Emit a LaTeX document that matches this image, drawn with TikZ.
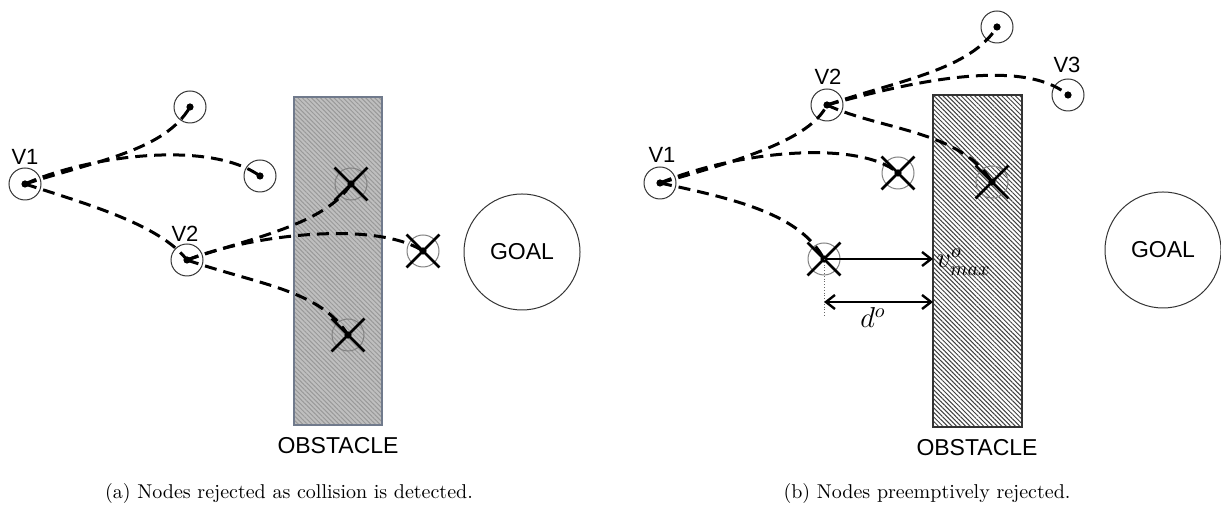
\documentclass[tikz,border=0pt]{standalone}
\usepackage{fontspec}
\newfontfamily\arial{Liberation Sans}
\usetikzlibrary{arrows.meta, patterns.meta, shapes.misc}

\definecolor{obstedge}{RGB}{112,122,140}

\begin{document}
\begin{tikzpicture}[x=0.5pt, y=-0.5pt, >={Straight Barb[length=4.5pt, width=7pt]},
    vnode/.style={circle, draw=black!80, line width=0.5pt, minimum size=16pt, inner sep=0pt,
      path picture={\fill (path picture bounding box.center) circle (1.8pt);}},
    rejnode/.style={vnode, draw=black!50},
    xmark/.style={cross out, draw, line width=1.4pt, minimum size=15pt, inner sep=0pt},
    edge/.style={line width=1.5pt, dash pattern=on 6pt off 3.5pt},
    lbl/.style={font=\arial\fontsize{11}{13}\selectfont},
    goal/.style={circle, draw=black!80, line width=0.5pt, minimum size=58pt, inner sep=0pt,
      font=\arial\fontsize{11.5}{13}\selectfont},
    caption/.style={font=\normalsize}]
\useasboundingbox (0,0) rectangle (1221,506);

% (a) collision detected
\filldraw[fill=gray!50, draw=obstedge, line width=0.6pt] (294,97) rectangle (382,425);
\fill[pattern={Lines[angle=-45, distance=1.6pt, line width=0.5pt]}, pattern color=black!40]
  (294,97) rectangle (382,425);
\draw[obstedge, line width=0.6pt] (294,97) rectangle (382,425);
\node[lbl, font=\arial\fontsize{11.5}{13}\selectfont] (a-obst) at (338,446) {OBSTACLE};

\node[vnode] (a1) at (25,184) {};
\node[lbl] (a1-lbl) at (25,157) {V1};
\node[vnode] (a2) at (187,260) {};
\node[lbl] (a2-lbl) at (185,234) {V2};
\node[vnode] (a3) at (190,107) {};
\node[vnode] (a4) at (260,176) {};
\node[rejnode] (a5) at (351,184) {};
\node[rejnode] (a6) at (423,251) {};
\node[rejnode] (a7) at (348,335) {};
\node[goal] (a-goal) at (522,252) {GOAL};

\draw[edge] (a1.center) .. controls (100,160) and (165,150) .. (a3.center);
\draw[edge] (a1.center) .. controls (90,155) and (210,140) .. (a4.center);
\draw[edge] (a1.center) .. controls (90,205) and (160,225) .. (a2.center);
\draw[edge] (a2.center) .. controls (250,238) and (325,225) .. (a5.center);
\draw[edge] (a2.center) .. controls (250,235) and (375,220) .. (a6.center);
\draw[edge] (a2.center) .. controls (260,285) and (320,290) .. (a7.center);

\node[xmark] at (a5) {};
\node[xmark] at (a6) {};
\node[xmark] at (a7) {};

\node[caption] (a-cap) at (289,494) {(a) Nodes rejected as collision is detected.};

% (b) preemptive rejection
\filldraw[fill=white, draw=black!80, line width=0.6pt] (933,95) rectangle (1022,427);
\fill[pattern={Lines[angle=-45, distance=1.6pt, line width=0.5pt]}, pattern color=black!75]
  (933,95) rectangle (1022,427);
\draw[black!80, line width=0.6pt] (933,95) rectangle (1022,427);
\node[lbl, font=\arial\fontsize{11.5}{13}\selectfont] (b-obst) at (977,448) {OBSTACLE};

\node[vnode] (b1) at (660,183) {};
\node[lbl] (b1-lbl) at (662,155) {V1};
\node[vnode] (b2) at (827,105) {};
\node[lbl] (b2-lbl) at (828,77) {V2};
\node[vnode] (b3) at (997,27) {};
\node[vnode] (b4) at (1068,95) {};
\node[lbl] (b4-lbl) at (1067,65) {V3};
\node[rejnode] (b5) at (992,182) {};
\node[rejnode] (b6) at (898,173) {};
\node[rejnode] (b7) at (824,259) {};
\node[goal] (b-goal) at (1163,250) {GOAL};

\draw[edge] (b1.center) .. controls (740,160) and (810,140) .. (b2.center);
\draw[edge] (b1.center) .. controls (740,150) and (860,140) .. (b6.center);
\draw[edge] (b1.center) .. controls (740,200) and (800,215) .. (b7.center);
\draw[edge] (b2.center) .. controls (900,80) and (970,70) .. (b3.center);
\draw[edge] (b2.center) .. controls (900,85) and (1020,55) .. (b4.center);
\draw[edge] (b2.center) .. controls (880,130) and (960,130) .. (b5.center);

\node[xmark] at (b5) {};
\node[xmark] at (b6) {};
\node[xmark] at (b7) {};

% distance to obstacle
\coordinate (vm) at (933,259);
\coordinate (d1) at (824,302);
\coordinate (d2) at (933,302);
\coordinate (d3) at (824,316);
\draw[->, line width=1.2pt] (b7.center) -- (vm);
\node[anchor=west, inner sep=0.5pt, font=\Large] (vm-lbl) at (935,262) {$v^{o}_{max}$};
\draw[<->, line width=1.2pt] (d1) -- (d2);
\draw[densely dotted, line width=0.4pt, black!60] (b7.center) -- (d3);
\node[font=\Large] (d-lbl) at (873,318) {$d^{o}$};

\node[caption] (b-cap) at (927,494) {(b) Nodes preemptively rejected.};
\end{tikzpicture}
\end{document}
